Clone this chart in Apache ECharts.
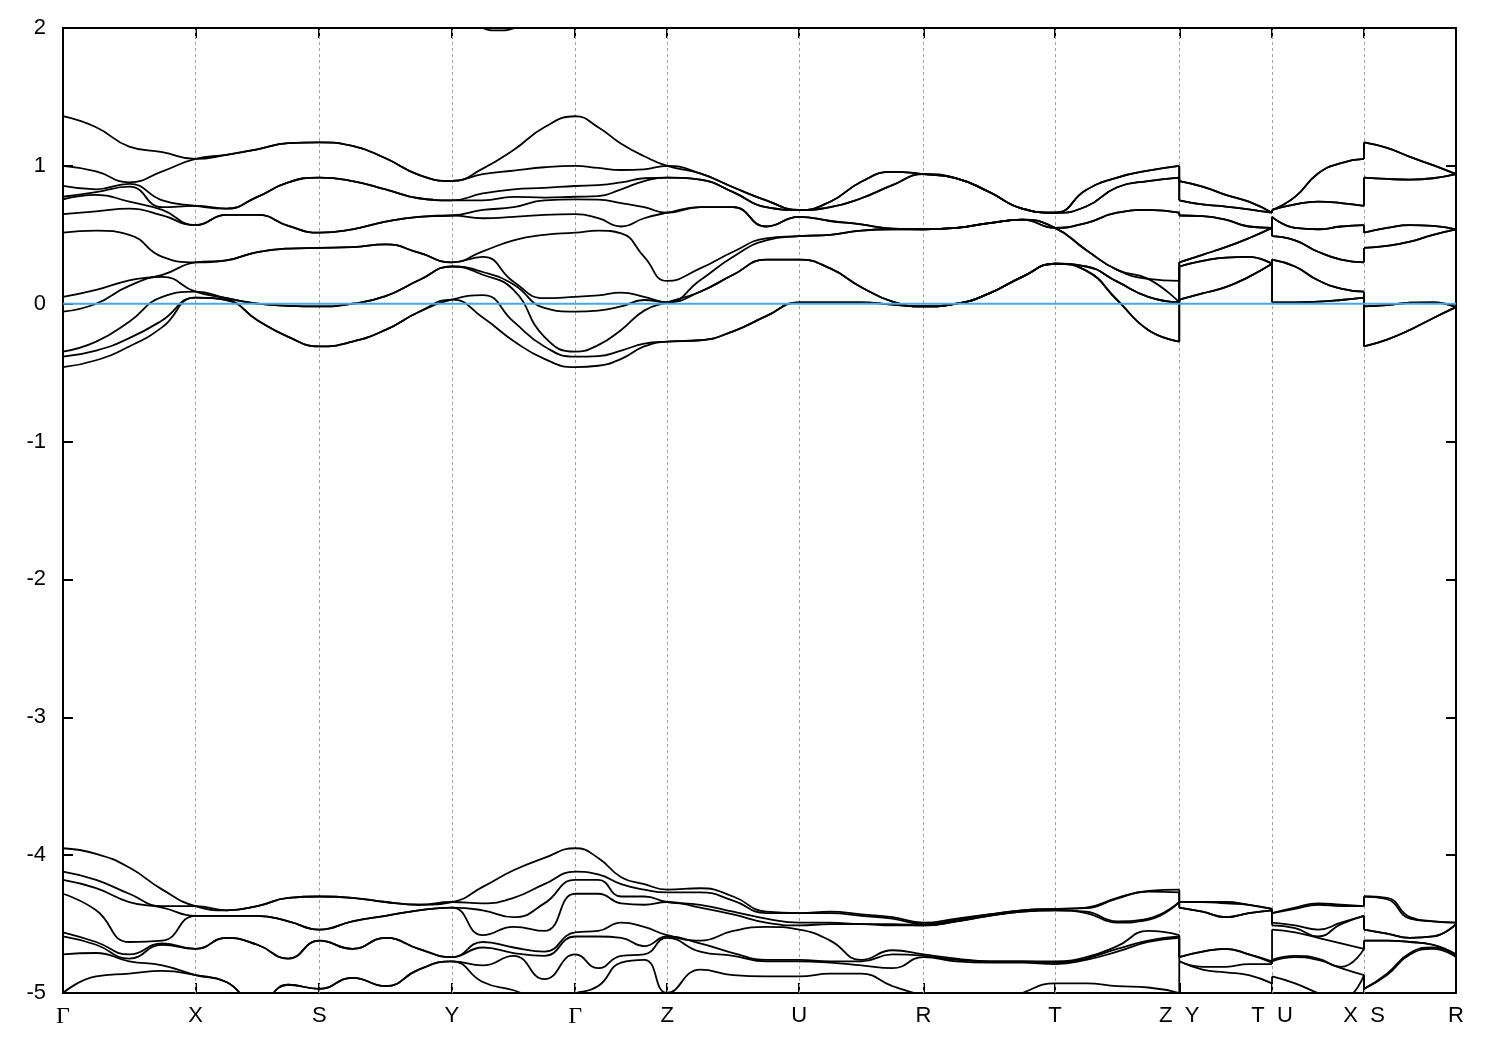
<!DOCTYPE html>
<html>
<head>
<meta charset="utf-8">
<script src="https://cdn.jsdelivr.net/npm/echarts@6/dist/echarts.min.js"></script>
<style>
html,body{margin:0;padding:0;background:#fff;}
#chart{width:1500px;height:1050px;}
</style>
</head>
<body>
<div id="chart"></div>
<script>
// k-path (high-symmetry points, path length units) and their labels
const kTicks = [0, 132.5, 256.3, 389.0, 512.3, 604.3, 736.3, 860.7, 992.3, 1116.5, 1209.3, 1301.3, 1393.3];
const kLabels = ['Γ', 'X', 'S', 'Y', 'Γ', 'Z', 'U', 'R', 'T', 'Z  Y', 'T  U', 'X  S', 'R'];
// segments that start after a path discontinuity (Z|Y, T|U, X|S)
const jumpSegments = [9, 10, 11];
const yTicks = [-5, -4, -3, -2, -1, 0, 1, 2];

// Upper band group (eV), 5 k-points per segment, bands sorted ascending
const uGX = [
  [-0.46, -0.384, -0.348, -0.058, 0.05, 0.515, 0.65, 0.757, 0.776, 0.854, 1.00, 1.36],
  [-0.41, -0.34, -0.275, 0.0, 0.10, 0.53, 0.67, 0.79, 0.81, 0.83, 0.96, 1.28],
  [-0.31, -0.25, -0.13, 0.13, 0.17, 0.50, 0.69, 0.74, 0.85, 0.87, 0.88, 1.14],
  [-0.17, -0.12, 0.05, 0.195, 0.21, 0.34, 0.64, 0.68, 0.70, 0.75, 0.96, 1.10],
  [0.044, 0.044, 0.087, 0.087, 0.30, 0.30, 0.57, 0.57, 0.71, 0.71, 1.05, 1.05]
];
const uXS = [
  [0.044, 0.044, 0.087, 0.087, 0.30, 0.30, 0.57, 0.57, 0.71, 0.71, 1.05, 1.05],
  [0.027, 0.027, 0.04, 0.04, 0.315, 0.315, 0.645, 0.645, 0.69, 0.69, 1.08, 1.08],
  [-0.12, -0.12, 0.0, 0.0, 0.375, 0.375, 0.645, 0.645, 0.775, 0.775, 1.12, 1.12],
  [-0.24, -0.24, -0.015, -0.015, 0.40, 0.40, 0.565, 0.565, 0.88, 0.88, 1.165, 1.165],
  [-0.31, -0.31, -0.02, -0.02, 0.405, 0.405, 0.515, 0.515, 0.915, 0.915, 1.17, 1.17]
];
const uSY = [
  [-0.31, -0.31, -0.02, -0.02, 0.405, 0.405, 0.515, 0.515, 0.915, 0.915, 1.17, 1.17],
  [-0.275, -0.275, 0.0, 0.0, 0.41, 0.41, 0.54, 0.54, 0.89, 0.89, 1.145, 1.145],
  [-0.19, -0.19, 0.055, 0.055, 0.43, 0.43, 0.595, 0.595, 0.83, 0.83, 1.055, 1.055],
  [-0.06, -0.06, 0.17, 0.17, 0.37, 0.37, 0.63, 0.63, 0.765, 0.765, 0.935, 0.935],
  [0.03, 0.03, 0.27, 0.27, 0.30, 0.30, 0.64, 0.64, 0.75, 0.75, 0.89, 0.89]
];
const uYG = [
  [0.03, 0.03, 0.27, 0.27, 0.30, 0.30, 0.64, 0.64, 0.75, 0.75, 0.89, 0.89],
  [-0.10, 0.063, 0.21, 0.23, 0.34, 0.38, 0.62, 0.68, 0.75, 0.80, 0.94, 0.98],
  [-0.27, -0.13, 0.10, 0.14, 0.16, 0.46, 0.63, 0.70, 0.775, 0.83, 0.965, 1.115],
  [-0.40, -0.31, -0.24, -0.03, 0.04, 0.50, 0.645, 0.75, 0.77, 0.84, 0.99, 1.28],
  [-0.46, -0.384, -0.348, -0.058, 0.05, 0.515, 0.65, 0.757, 0.776, 0.854, 1.00, 1.36]
];
const uGZ = [
  [-0.46, -0.384, -0.348, -0.058, 0.05, 0.515, 0.65, 0.757, 0.776, 0.854, 1.00, 1.36],
  [-0.45, -0.38, -0.30, -0.05, 0.06, 0.53, 0.62, 0.755, 0.78, 0.86, 0.985, 1.28],
  [-0.40, -0.34, -0.19, -0.02, 0.08, 0.51, 0.56, 0.73, 0.83, 0.88, 0.97, 1.16],
  [-0.31, -0.29, -0.05, 0.027, 0.05, 0.34, 0.62, 0.70, 0.89, 0.91, 0.975, 1.07],
  [-0.275, -0.275, 0.01, 0.01, 0.01, 0.165, 0.66, 0.66, 0.915, 0.915, 1.0, 1.0]
];
const uZU = [
  [-0.275, -0.275, 0.01, 0.01, 0.01, 0.165, 0.66, 0.66, 0.915, 0.915, 1.0, 1.0],
  [-0.265, -0.265, 0.087, 0.087, 0.17, 0.256, 0.70, 0.70, 0.90, 0.90, 0.945, 0.945],
  [-0.20, -0.20, 0.21, 0.21, 0.34, 0.377, 0.70, 0.70, 0.81, 0.81, 0.845, 0.845],
  [-0.09, -0.09, 0.32, 0.32, 0.46, 0.474, 0.56, 0.56, 0.70, 0.70, 0.75, 0.75],
  [0.01, 0.01, 0.32, 0.32, 0.49, 0.49, 0.63, 0.63, 0.68, 0.68, 0.68, 0.68]
];
const uUR = [
  [0.01, 0.01, 0.32, 0.32, 0.49, 0.49, 0.63, 0.63, 0.68, 0.68, 0.68, 0.68],
  [0.01, 0.01, 0.256, 0.256, 0.50, 0.50, 0.60, 0.60, 0.70, 0.70, 0.74, 0.74],
  [0.01, 0.01, 0.12, 0.12, 0.53, 0.53, 0.575, 0.575, 0.765, 0.765, 0.885, 0.885],
  [-0.007, -0.007, 0.015, 0.015, 0.54, 0.54, 0.545, 0.545, 0.86, 0.86, 0.957, 0.957],
  [-0.02, -0.02, -0.02, -0.02, 0.54, 0.54, 0.54, 0.54, 0.94, 0.94, 0.94, 0.94]
];
const uRT = [
  [-0.02, -0.02, -0.02, -0.02, 0.54, 0.54, 0.54, 0.54, 0.94, 0.94, 0.94, 0.94],
  [0.0, 0.0, 0.0, 0.0, 0.55, 0.55, 0.55, 0.55, 0.91, 0.91, 0.91, 0.91],
  [0.075, 0.075, 0.075, 0.075, 0.585, 0.585, 0.585, 0.585, 0.81, 0.81, 0.81, 0.81],
  [0.195, 0.195, 0.195, 0.195, 0.61, 0.61, 0.61, 0.61, 0.69, 0.69, 0.69, 0.69],
  [0.29, 0.29, 0.29, 0.29, 0.55, 0.55, 0.55, 0.55, 0.66, 0.66, 0.66, 0.66]
];
const uTZ = [
  [0.29, 0.29, 0.29, 0.29, 0.55, 0.55, 0.55, 0.55, 0.66, 0.66, 0.66, 0.66],
  [0.24, 0.24, 0.27, 0.27, 0.39, 0.39, 0.585, 0.585, 0.705, 0.705, 0.825, 0.825],
  [0.027, 0.027, 0.16, 0.16, 0.245, 0.245, 0.66, 0.66, 0.845, 0.845, 0.915, 0.915],
  [-0.19, -0.19, 0.05, 0.05, 0.18, 0.18, 0.68, 0.68, 0.89, 0.89, 0.965, 0.965],
  [-0.275, -0.275, 0.01, 0.01, 0.01, 0.165, 0.66, 0.66, 0.915, 0.915, 1.0, 1.0]
];
const uYT = [
  [0.03, 0.03, 0.27, 0.27, 0.30, 0.30, 0.64, 0.64, 0.75, 0.75, 0.89, 0.89],
  [0.075, 0.075, 0.31, 0.31, 0.355, 0.355, 0.635, 0.635, 0.72, 0.72, 0.85, 0.85],
  [0.12, 0.12, 0.335, 0.335, 0.41, 0.41, 0.61, 0.61, 0.705, 0.705, 0.79, 0.79],
  [0.195, 0.195, 0.34, 0.34, 0.475, 0.475, 0.56, 0.56, 0.685, 0.685, 0.74, 0.74],
  [0.29, 0.29, 0.29, 0.29, 0.55, 0.55, 0.55, 0.55, 0.66, 0.66, 0.66, 0.66]
];
const uUX = [
  [0.01, 0.01, 0.32, 0.32, 0.49, 0.49, 0.63, 0.63, 0.68, 0.68, 0.68, 0.68],
  [0.01, 0.01, 0.27, 0.27, 0.46, 0.46, 0.55, 0.55, 0.72, 0.72, 0.775, 0.775],
  [0.015, 0.015, 0.17, 0.17, 0.377, 0.377, 0.54, 0.54, 0.74, 0.74, 0.945, 0.945],
  [0.027, 0.027, 0.11, 0.11, 0.32, 0.32, 0.56, 0.56, 0.73, 0.73, 1.02, 1.02],
  [0.044, 0.044, 0.087, 0.087, 0.30, 0.30, 0.57, 0.57, 0.71, 0.71, 1.05, 1.05]
];
const uSR = [
  [-0.31, -0.31, -0.02, -0.02, 0.405, 0.405, 0.515, 0.515, 0.915, 0.915, 1.17, 1.17],
  [-0.26, -0.26, -0.01, -0.01, 0.42, 0.42, 0.55, 0.55, 0.905, 0.905, 1.13, 1.13],
  [-0.19, -0.19, 0.007, 0.007, 0.45, 0.45, 0.57, 0.57, 0.90, 0.90, 1.065, 1.065],
  [-0.105, -0.105, 0.01, 0.01, 0.50, 0.50, 0.565, 0.565, 0.91, 0.91, 1.005, 1.005],
  [-0.025, -0.025, -0.025, -0.025, 0.54, 0.54, 0.54, 0.54, 0.94, 0.94, 0.94, 0.94]
];

// Lower band group (eV), bands sorted from top to bottom
const lGX = [
  [-3.95, -4.12, -4.18, -4.28, -4.56, -4.59, -4.72, -5.0],
  [-3.99, -4.18, -4.24, -4.40, -4.63, -4.65, -4.71, -4.88],
  [-4.09, -4.28, -4.34, -4.63, -4.72, -4.75, -4.77, -4.86],
  [-4.25, -4.37, -4.38, -4.62, -4.64, -4.65, -4.80, -4.84],
  [-4.37, -4.37, -4.44, -4.44, -4.68, -4.68, -4.87, -4.87]
];
const lXS = [
  [-4.37, -4.37, -4.44, -4.44, -4.68, -4.68, -4.87, -4.87],
  [-4.40, -4.40, -4.44, -4.44, -4.60, -4.60, -4.92, -4.92],
  [-4.37, -4.37, -4.44, -4.44, -4.65, -4.65, -5.08, -5.08],
  [-4.31, -4.31, -4.48, -4.48, -4.75, -4.75, -4.94, -4.94],
  [-4.30, -4.30, -4.54, -4.54, -4.62, -4.62, -4.97, -4.97]
];
const lSY = [
  [-4.30, -4.30, -4.54, -4.54, -4.62, -4.62, -4.97, -4.97],
  [-4.31, -4.31, -4.48, -4.48, -4.68, -4.68, -4.89, -4.89],
  [-4.34, -4.34, -4.44, -4.44, -4.60, -4.60, -4.95, -4.95],
  [-4.36, -4.36, -4.40, -4.40, -4.68, -4.68, -4.83, -4.83],
  [-4.34, -4.34, -4.38, -4.38, -4.74, -4.74, -4.77, -4.77]
];
const lYG = [
  [-4.34, -4.34, -4.38, -4.38, -4.74, -4.74, -4.77, -4.77],
  [-4.23, -4.35, -4.40, -4.58, -4.63, -4.67, -4.80, -4.92],
  [-4.11, -4.31, -4.45, -4.52, -4.67, -4.71, -4.73, -4.98],
  [-4.02, -4.21, -4.35, -4.55, -4.70, -4.73, -4.90, -5.05],
  [-3.95, -4.12, -4.18, -4.28, -4.56, -4.59, -4.72, -5.0]
];
const lGZ = [
  [-3.95, -4.12, -4.18, -4.28, -4.56, -4.59, -4.72, -5.0],
  [-4.02, -4.14, -4.18, -4.28, -4.55, -4.59, -4.82, -4.95],
  [-4.16, -4.21, -4.30, -4.35, -4.49, -4.60, -4.73, -4.78],
  [-4.21, -4.25, -4.30, -4.36, -4.52, -4.66, -4.72, -4.76],
  [-4.25, -4.27, -4.34, -4.34, -4.58, -4.59, -4.60, -5.0]
];
const lZU = [
  [-4.25, -4.27, -4.34, -4.34, -4.58, -4.59, -4.60, -5.0],
  [-4.24, -4.27, -4.36, -4.38, -4.62, -4.64, -4.70, -4.83],
  [-4.30, -4.33, -4.41, -4.43, -4.55, -4.71, -4.73, -4.87],
  [-4.41, -4.42, -4.46, -4.49, -4.52, -4.76, -4.77, -4.88],
  [-4.42, -4.42, -4.49, -4.51, -4.54, -4.76, -4.77, -4.88]
];
const lUR = [
  [-4.42, -4.42, -4.49, -4.51, -4.54, -4.76, -4.77, -4.88],
  [-4.41, -4.42, -4.49, -4.50, -4.62, -4.77, -4.78, -4.86],
  [-4.43, -4.44, -4.50, -4.50, -4.76, -4.77, -4.80, -4.86],
  [-4.45, -4.46, -4.50, -4.51, -4.69, -4.72, -4.82, -4.95],
  [-4.49, -4.50, -4.51, -4.51, -4.72, -4.73, -4.74, -5.02]
];
const lRT = [
  [-4.49, -4.50, -4.51, -4.51, -4.72, -4.73, -4.74, -5.02],
  [-4.46, -4.47, -4.48, -4.48, -4.75, -4.76, -4.77, -5.10],
  [-4.43, -4.43, -4.44, -4.44, -4.77, -4.77, -4.78, -5.10],
  [-4.40, -4.40, -4.41, -4.41, -4.77, -4.77, -4.78, -5.00],
  [-4.39, -4.39, -4.40, -4.40, -4.77, -4.78, -4.79, -4.93]
];
const lTZ = [
  [-4.39, -4.39, -4.40, -4.40, -4.77, -4.78, -4.79, -4.93],
  [-4.38, -4.385, -4.41, -4.42, -4.74, -4.75, -4.76, -4.93],
  [-4.31, -4.315, -4.48, -4.49, -4.66, -4.68, -4.70, -4.95],
  [-4.26, -4.265, -4.46, -4.47, -4.55, -4.62, -4.63, -4.96],
  [-4.25, -4.27, -4.34, -4.34, -4.58, -4.59, -4.60, -5.0]
];
const lYT = [
  [-4.34, -4.34, -4.38, -4.38, -4.74, -4.74, -4.77, -4.77],
  [-4.34, -4.34, -4.41, -4.41, -4.70, -4.70, -4.81, -4.83],
  [-4.34, -4.35, -4.45, -4.45, -4.68, -4.68, -4.81, -4.85],
  [-4.36, -4.36, -4.42, -4.42, -4.72, -4.72, -4.79, -4.87],
  [-4.39, -4.39, -4.40, -4.40, -4.77, -4.78, -4.79, -4.93]
];
const lUX = [
  [-4.42, -4.42, -4.49, -4.51, -4.54, -4.76, -4.77, -4.88],
  [-4.38, -4.39, -4.51, -4.53, -4.56, -4.73, -4.74, -4.93],
  [-4.35, -4.36, -4.54, -4.59, -4.60, -4.75, -4.76, -5.0],
  [-4.36, -4.37, -4.49, -4.50, -4.64, -4.81, -4.82, -5.05],
  [-4.37, -4.37, -4.44, -4.44, -4.68, -4.68, -4.87, -4.87]
];
const lSR = [
  [-4.30, -4.30, -4.54, -4.54, -4.62, -4.62, -4.97, -4.97],
  [-4.31, -4.32, -4.57, -4.57, -4.62, -4.62, -4.86, -4.87],
  [-4.45, -4.46, -4.60, -4.60, -4.63, -4.63, -4.71, -4.72],
  [-4.48, -4.48, -4.59, -4.59, -4.65, -4.65, -4.67, -4.68],
  [-4.49, -4.49, -4.50, -4.50, -4.72, -4.72, -4.73, -4.74]
];

// Band peeking in at the top edge along Y–Γ: [fraction along Y–Γ, energy]
const topBand = [[0.15, 2.12], [0.25, 2.0], [0.37, 1.983], [0.51, 2.0], [0.6, 2.1]];

const upperSegments = [uGX, uXS, uSY, uYG, uGZ, uZU, uUR, uRT, uTZ, uYT, uUX, uSR];
const lowerSegments = [lGX, lXS, lSY, lYG, lGZ, lZU, lUR, lRT, lTZ, lYT, lUX, lSR];

// Split each band into continuous path pieces; the jumps are drawn as straight connectors
function buildBandPieces(segments, b) {
  const pieces = [];
  let cur = [];
  const connectors = [];
  segments.forEach((rows, s) => {
    const k0 = kTicks[s], k1 = kTicks[s + 1];
    const isJump = jumpSegments.indexOf(s) >= 0;
    if (isJump) {
      const last = cur[cur.length - 1];
      pieces.push(cur);
      cur = [];
      connectors.push([[last[0], last[1]], [k0, rows[0][b]]]);
    }
    rows.forEach((row, r) => {
      if (r === 0 && s > 0 && !isJump) return;
      cur.push([k0 + (k1 - k0) * r / (rows.length - 1), row[b]]);
    });
  });
  pieces.push(cur);
  return { pieces, connectors };
}

const lineStyleBand = { color: '#000', width: 1.8 };
const series = [];
function addGroup(segments) {
  const nb = segments[0][0].length;
  for (let b = 0; b < nb; b++) {
    const { pieces, connectors } = buildBandPieces(segments, b);
    pieces.forEach(p => series.push({
      type: 'line', data: p, showSymbol: false, symbol: 'none',
      smooth: 0.5, lineStyle: lineStyleBand, z: 3, silent: true, clip: true
    }));
    connectors.forEach(c => series.push({
      type: 'line', data: c, showSymbol: false, symbol: 'none',
      lineStyle: lineStyleBand, z: 3, silent: true, clip: true
    }));
  }
}
addGroup(upperSegments);
addGroup(lowerSegments);
series.push({
  type: 'line', showSymbol: false, symbol: 'none', smooth: 0.5,
  data: topBand.map(p => [kTicks[3] + (kTicks[4] - kTicks[3]) * p[0], p[1]]),
  lineStyle: lineStyleBand, z: 3, silent: true, clip: true
});
// high-symmetry dashed guides
series.push({
  type: 'line', data: [], z: 1, silent: true,
  markLine: {
    silent: true, symbol: 'none', label: { show: false }, z: 1,
    lineStyle: { color: '#a0a0a0', type: [3, 3], width: 1 },
    data: kTicks.slice(1, -1).map(k => ({ xAxis: k }))
  }
});
// Fermi level
series.push({
  type: 'line', showSymbol: false, symbol: 'none', silent: true, z: 5,
  data: [[kTicks[0], 0], [kTicks[kTicks.length - 1], 0]],
  lineStyle: { color: '#4aa6dd', width: 2 }
});

const chart = echarts.init(document.getElementById('chart'), null, { renderer: 'canvas' });
const font = "'Liberation Sans', Arial, sans-serif";
function kLabel(v) {
  let idx = 0, best = Infinity;
  kTicks.forEach((k, i) => { const d = Math.abs(k - v); if (d < best) { best = d; idx = i; } });
  const t = kLabels[idx];
  return t === 'Γ' ? '{g|Γ}' : t;
}
chart.setOption({
  animation: false,
  backgroundColor: '#fff',
  grid: { left: 63, right: 44, top: 28, bottom: 57, containLabel: false },
  xAxis: [{
    type: 'value', min: kTicks[0], max: kTicks[kTicks.length - 1], position: 'bottom',
    axisLine: { show: true, onZero: false, lineStyle: { color: '#000', width: 2 } },
    axisTick: { show: true, inside: true, length: 10, customValues: kTicks, lineStyle: { color: '#000', width: 2 } },
    axisLabel: {
      show: true, customValues: kTicks, formatter: kLabel, margin: 12,
      fontFamily: font, fontSize: 22, color: '#000',
      rich: { g: { fontFamily: "'Liberation Serif', 'DejaVu Serif', serif", fontSize: 24, color: '#000' } }
    },
    splitLine: { show: false }
  }, {
    type: 'value', min: kTicks[0], max: kTicks[kTicks.length - 1], position: 'top',
    axisLine: { show: true, onZero: false, lineStyle: { color: '#000', width: 2 } },
    axisTick: { show: true, inside: true, length: 10, customValues: kTicks, lineStyle: { color: '#000', width: 2 } },
    axisLabel: { show: false },
    splitLine: { show: false }
  }],
  yAxis: [{
    type: 'value', min: yTicks[0], max: yTicks[yTicks.length - 1], interval: 1, position: 'left',
    axisLine: { show: true, onZero: false, lineStyle: { color: '#000', width: 2 } },
    axisTick: { show: true, inside: true, length: 10, lineStyle: { color: '#000', width: 2 } },
    axisLabel: { show: true, margin: 17, fontFamily: font, fontSize: 22, color: '#000' },
    splitLine: { show: false }
  }, {
    type: 'value', min: yTicks[0], max: yTicks[yTicks.length - 1], interval: 1, position: 'right',
    axisLine: { show: true, onZero: false, lineStyle: { color: '#000', width: 2 } },
    axisTick: { show: true, inside: true, length: 10, lineStyle: { color: '#000', width: 2 } },
    axisLabel: { show: false },
    splitLine: { show: false }
  }],
  series: series
});
</script>
</body>
</html>
